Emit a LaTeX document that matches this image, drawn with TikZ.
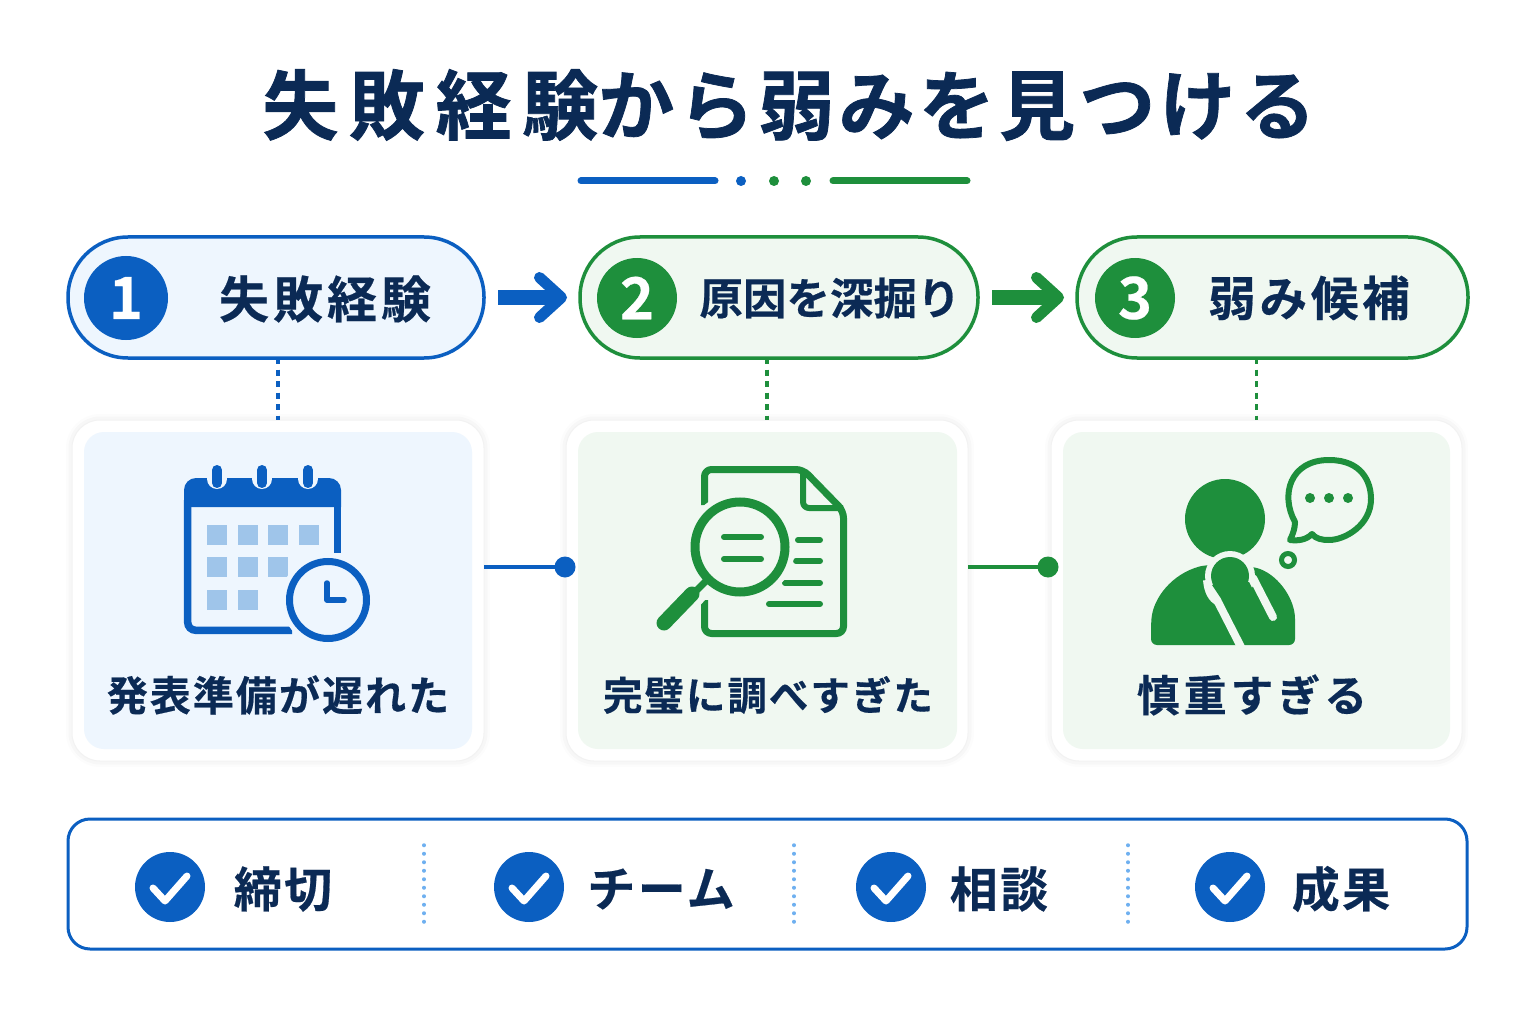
\documentclass[tikz,border=0pt]{standalone}
\usepackage{fontspec}
\setmainfont[FakeBold=0.4]{Noto Sans CJK JP Bold}
\usetikzlibrary{arrows.meta,positioning}
\definecolor{navy}{HTML}{0B2A55}
\definecolor{bluemain}{HTML}{0B5FC1}
\definecolor{greenmain}{HTML}{1E8F3C}
\definecolor{bluetint}{HTML}{EEF6FE}
\definecolor{greentint}{HTML}{F0F8F1}
\definecolor{bluecell}{HTML}{9FC5EA}
\definecolor{bluedash}{HTML}{6FB0F0}
\begin{document}
\begin{tikzpicture} [
                x=1pt,y=-1pt,
                every node/.style={outer sep=0pt},
                pill/.style={draw,line width=3.5pt,minimum height=121pt,rounded corners=60pt},
                badge/.style={circle,inner sep=0pt,text=white,font=\fontsize{58}{58}\selectfont},
                pill label/.style={text=navy,inner sep=0pt},
                card/.style={fill=white,draw=black!5,line width=1pt,minimum height=341pt,rounded corners=28pt,
                    preaction={draw=black,draw opacity=.012,line width=12pt},
                    preaction={draw=black,draw opacity=.018,line width=7pt}},
                inner card/.style={minimum height=317pt,rounded corners=20pt},
                card label/.style={text=navy,inner sep=0pt},
                block arrow/.style={line width=15pt,shorten <=14pt,shorten >=13pt,
                    -{Straight Barb[length=22pt,width=40pt,line width=11pt,round]}},
                dash link/.style={line width=3.5pt,dash pattern=on 6pt off 5.5pt},
                side dot/.style={circle,minimum size=21pt,inner sep=0pt},
                side link/.style={line width=3.5pt},
                check badge/.style={circle,fill=bluemain,minimum size=70pt,inner sep=0pt},
                check mark/.style={draw=white,line width=7pt,line cap=round,line join=round},
                check label/.style={text=navy,inner sep=0pt,font=\fontsize{48}{48}\selectfont\addfontfeature{LetterSpace=5}},
            ]
            \useasboundingbox (0,0) rectangle (1536,1024);
            \fill[white!99!bluetint] (0,0) rectangle (1536,1024);
            % title
            \node[text=navy,inner sep=0pt,font=\fontsize{76}{76}\selectfont\addfontfeature{FakeBold=1}] (title) at (789,105) {{\addfontfeature{LetterSpace=14}失敗経験}{\addfontfeature{LetterSpace=5.5}から弱みを見つける}};
            \coordinate (ruleA) at (581,181);
            \coordinate (ruleB) at (715,181);
            \coordinate (ruleC) at (833,181);
            \coordinate (ruleD) at (967,181);
            \draw[bluemain,line width=7pt,line cap=round] (ruleA) -- (ruleB);
            \draw[greenmain,line width=7pt,line cap=round] (ruleC) -- (ruleD);
            \node[circle,fill=bluemain,minimum size=10pt,inner sep=0pt] (ruleDotA) at (741,181) {};
            \node[circle,fill=greenmain,minimum size=10pt,inner sep=0pt] (ruleDotB) at (774,181) {};
            \node[circle,fill=greenmain,minimum size=10pt,inner sep=0pt] (ruleDotC) at (806,181) {};
            % step pills
            \node[pill,draw=bluemain,fill=bluetint,minimum width=416pt] (pill1) at (276,297.5) {};
            \node[pill,draw=greenmain,fill=greentint,minimum width=398pt] (pill2) at (779,297.5) {};
            \node[pill,draw=greenmain,fill=greentint,minimum width=391pt] (pill3) at (1272.5,297.5) {};
            \node[badge,fill=bluemain,minimum size=84pt] (badge1) at (126,298) {1};
            \node[badge,fill=greenmain,minimum size=80pt] (badge2) at (637,298) {2};
            \node[badge,fill=greenmain,minimum size=80pt] (badge3) at (1135,298) {3};
            \node[pill label,font=\fontsize{50}{50}\selectfont\addfontfeature{LetterSpace=8}] (label1) at (325,299) {失敗経験};
            \node[pill label,font=\fontsize{43.5}{43.5}\selectfont] (label2) at (830,298) {原因を深掘り};
            \node[pill label,font=\fontsize{47.5}{47.5}\selectfont\addfontfeature{LetterSpace=8}] (label3) at (1309,298) {弱み候補};
            \draw[bluemain,block arrow] (pill1) -- (pill2);
            \draw[greenmain,block arrow] (pill2) -- (pill3);
            % cards
            \foreach \pos/\wid/\name in {
            {(278,590.5)/412/card1}, {(767,590.5)/402/card2}, {(1256.5,590.5)/411/card3}}
                \node[card,minimum width=\wid pt] (\name) at \pos {};
            \node[inner card,fill=bluetint,minimum width=388pt] (inner1) at (278,590.5) {};
            \node[inner card,fill=greentint,minimum width=379pt] (inner2) at (767.5,590.5) {};
            \node[inner card,fill=greentint,minimum width=387pt] (inner3) at (1256.5,590.5) {};
            \draw[bluemain,dash link] (pill1.south -| card1.north) -- (card1.north);
            \draw[greenmain,dash link] (pill2.south -| card2.north) -- (card2.north);
            \draw[greenmain,dash link] (pill3.south -| card3.north) -- (card3.north);
            \node[side dot,fill=bluemain] (dot1) at (565,567) {};
            \node[side dot,fill=greenmain] (dot2) at (1048,567) {};
            \draw[bluemain,side link] (card1.east |- dot1) -- (dot1);
            \draw[greenmain,side link] (card2.east |- dot2) -- (dot2);
            \node[card label,font=\fontsize{41}{41}\selectfont\addfontfeature{LetterSpace=5}] (text1) at (278,695) {発表準備が遅れた};
            \node[card label,font=\fontsize{39.5}{39.5}\selectfont\addfontfeature{LetterSpace=5}] (text2) at (768,695) {完璧に調べすぎた};
            \node[card label,font=\fontsize{43}{43}\selectfont\addfontfeature{LetterSpace=9}] (text3) at (1252,695) {慎重すぎる};
            % calendar
            \draw[bluemain,line width=7.5pt,rounded corners=8pt] (187.7,500) -- (187.7,630.3) -- (292,630.3);
            \draw[bluemain,line width=7.5pt] (337.3,500) -- (337.3,553);
            \fill[bluemain] (184,507) -- (184,490) arc[start angle=180,end angle=270,radius=12] -- (329,478) arc[start angle=270,end angle=360,radius=12] -- (341,507) -- cycle;
            \foreach \x in {217,262,308} {
                \draw[bluetint,line width=20pt,line cap=round] (\x,470) -- (\x,479);
                \draw[bluemain,line width=10pt,line cap=round] (\x,470) -- (\x,483);
            }
            \foreach \x/\y in {207/525,238/525,268/525,299/525,207/557,238/557,268/557,207/590,238/590}
                \fill[bluecell] (\x,\y) rectangle +(19.5,19.5);
            \fill[bluetint] (328,600) circle (47);
            \draw[bluemain,line width=7pt,fill=bluetint] (328,600) circle (38.5);
            \draw[bluemain,line width=5.5pt,line cap=round,line join=round] (327,583) -- (327,600) -- (344,600);
            % report and magnifier
            \draw[greenmain,line width=7pt,line join=round,rounded corners=7pt] (704.5,505) -- (704.5,469.5) -- (803,469.5) -- (843.5,511) -- (843.5,633.5) -- (704.5,633.5) -- (704.5,600);
            \draw[greenmain,line width=6pt,line join=round,rounded corners=6pt] (803,470) -- (803,508) -- (843,508);
            \foreach \xa/\y in {798/540,796/561,785/583,769/604}
                \draw[greenmain,line width=6pt,line cap=round] (\xa,\y) -- (820,\y);
            \fill[greentint] (740,547) circle (55);
            \draw[greentint,line width=24pt,line cap=round] (698,590) -- (672,618);
            \draw[greenmain,line width=9pt,fill=greentint] (740,547) circle (45);
            \draw[greenmain,line width=7pt] (708,579) -- (695,592);
            \draw[greenmain,line width=15pt,line cap=round] (692,594) -- (664,623);
            \draw[greenmain,line width=6pt,line cap=round] (724,537) -- (761,537);
            \draw[greenmain,line width=6pt,line cap=round] (724,559) -- (761,559);
            % thinking person
            \fill[greenmain] (1225,519) circle (40);
            \fill[greenmain,rounded corners=6pt] (1151,645) -- (1151,625) .. controls (1153,598) and (1172,574) .. (1205,565) -- (1255,567) .. controls (1280,577) and (1295,600) .. (1295,625) -- (1295,645) -- cycle;
            \fill[greentint] (1230,576) circle (25);
            \fill[greenmain] (1230,576) circle (19);
            \fill[greenmain] (1212,585) -- (1249,582) -- (1268,620) -- (1240,645) -- (1222,600) -- cycle;
            \draw[greentint,line width=8pt,line join=round] (1207,580) .. controls (1208,592) and (1212,598) .. (1218,602) -- (1242,649);
            \draw[greentint,line width=8pt,line cap=round] (1253,578) -- (1273,617);
            \draw[greenmain,line width=6pt,line join=round] (1295,522) .. controls (1280,495) and (1290,460) .. (1329,460) .. controls (1362,460) and (1371,482) .. (1371,499) .. controls (1371,525) and (1345,540) .. (1329,540) .. controls (1322,540) and (1316,539) .. (1312,534) .. controls (1306,540) and (1298,541) .. (1290,540) .. controls (1293,534) and (1295,528) .. (1295,522) -- cycle;
            \foreach \x in {1310,1329,1348}
                \fill[greenmain] (\x,498) circle (5);
            \draw[greenmain,line width=5pt] (1288,560) circle (6.5);
            % checklist
            \node[draw=bluemain,line width=3pt,fill=white,minimum width=1399pt,minimum height=130pt,rounded corners=22pt] (checkbox) at (767.5,884) {};
            \foreach \x/\name/\txt/\lx in {
                170/a/締切/283, 529/b/チーム/661, 891/c/相談/999, 1230/d/成果/1341} {
                \node[check badge] (check\name) at (\x,887) {};
                \draw[check mark] ([shift={(-17,1)}]check\name.center) -- ([shift={(-5,14)}]check\name.center) -- ([shift={(17,-11)}]check\name.center);
                \node[check label] (item\name) at (\lx,889) {\txt};
            }
            \foreach \x/\name in {424/a,794/b,1128/c} {
                \coordinate (sepTop\name) at (\x,845);
                \coordinate (sepEnd\name) at (\x,925);
                \draw[bluedash,line width=3.5pt,line cap=round,dash pattern=on 0.5pt off 8pt] (sepTop\name) -- (sepEnd\name);
            }
        \end{tikzpicture}
\end{document}
